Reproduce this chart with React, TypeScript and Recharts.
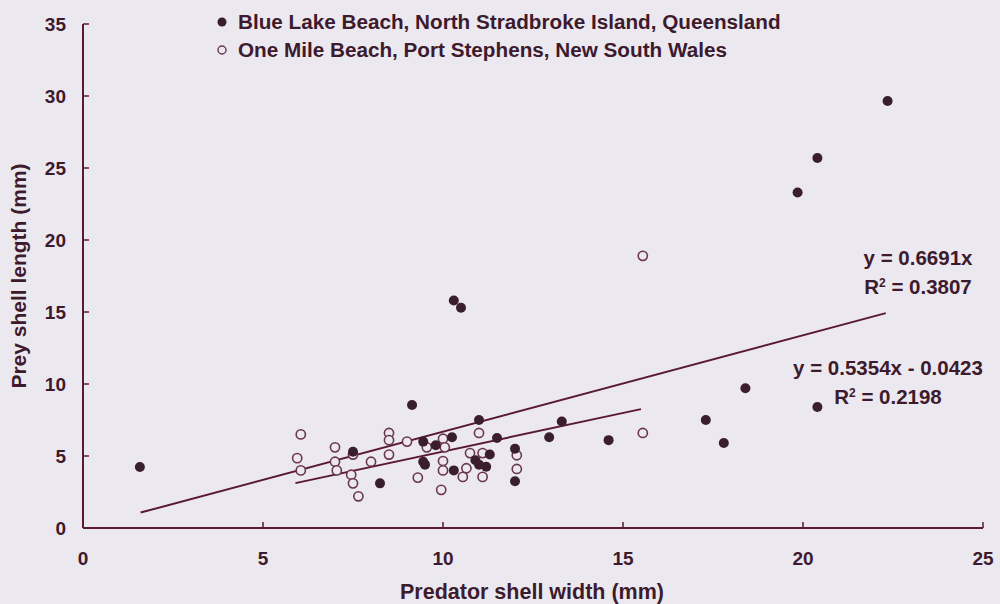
import React from "react";
import { ScatterChart, Scatter, XAxis, YAxis, ReferenceLine } from "recharts";

const blueLakeX = [1.58, 9.14, 10.3, 10.5, 8.25, 10.25, 11.0, 11.5, 12.0, 12.0, 13.3, 12.95, 14.6, 17.3, 17.8, 18.4, 19.85, 20.4, 20.4, 22.35, 7.5, 9.45, 9.8, 9.45, 9.5, 10.3, 10.9, 11.0, 11.3, 11.2];
const blueLakeY = [4.24, 8.54, 15.8, 15.3, 3.1, 6.3, 7.5, 6.25, 5.5, 3.25, 7.4, 6.3, 6.1, 7.5, 5.9, 9.7, 23.3, 25.7, 8.4, 29.65, 5.3, 6.0, 5.75, 4.6, 4.4, 4.0, 4.7, 4.4, 5.1, 4.25];

const oneMileX = [6.05, 5.95, 6.05, 7.0, 7.0, 7.05, 7.45, 7.5, 7.65, 7.5, 8.0, 8.5, 8.5, 8.5, 9.0, 9.3, 9.55, 9.95, 10.0, 10.05, 10.0, 10.0, 10.55, 10.65, 10.75, 11.0, 11.1, 11.1, 12.05, 12.05, 15.55, 15.55];
const oneMileY = [6.5, 4.85, 4.0, 5.6, 4.6, 4.0, 3.7, 3.1, 2.2, 5.1, 4.6, 6.6, 6.1, 5.1, 6.0, 3.5, 5.6, 2.65, 6.2, 5.6, 4.65, 4.0, 3.55, 4.15, 5.2, 6.6, 5.2, 3.55, 5.05, 4.1, 18.9, 6.6];

const xTicks = [0, 5, 10, 15, 20, 25];
const yTicks = [0, 5, 10, 15, 20, 25, 30, 35];

const seriesNames = [
  "Blue Lake Beach, North Stradbroke Island, Queensland",
  "One Mile Beach, Port Stephens, New South Wales",
];

// trend lines from the fitted equations shown on the chart
const trendBlue = { slope: 0.6691, intercept: 0, x0: 1.6, x1: 22.3 };
const trendOne = { slope: 0.5354, intercept: -0.0423, x0: 5.9, x1: 15.5 };

const blueLake = blueLakeX.map((x, i) => ({ x, y: blueLakeY[i] }));
const oneMile = oneMileX.map((x, i) => ({ x, y: oneMileY[i] }));

const seg = (t: typeof trendBlue) => [
  { x: t.x0, y: t.slope * t.x0 + t.intercept },
  { x: t.x1, y: t.slope * t.x1 + t.intercept },
];

const INK = "#3d1a2c";
const LINE = "#5a1838";
const BG = "#ebe8f0";
const FONT = "'Liberation Sans', Arial, sans-serif";

const FilledDot = (p: any) => <circle cx={p.cx} cy={p.cy} r={5} fill="#3a1e2e" />;
const OpenDot = (p: any) => (
  <circle cx={p.cx} cy={p.cy} r={4.6} fill={BG} stroke="#6a3550" strokeWidth={1.6} />
);

const XTick = (p: any) => {
  const { x, y, payload } = p;
  return (
    <g>
      {payload.value !== 0 && <line x1={x} y1={y} x2={x} y2={y - 6} stroke={LINE} strokeWidth={1.5} />}
      <text x={x} y={y + 37} textAnchor="middle" fill={INK} fontSize={19} fontWeight="bold" fontFamily={FONT}>
        {payload.value}
      </text>
    </g>
  );
};

const YTick = (p: any) => {
  const { x, y, payload } = p;
  return (
    <g>
      {payload.value !== 0 && <line x1={x} y1={y} x2={x + 6} y2={y} stroke={LINE} strokeWidth={1.5} />}
      <text x={x - 17} y={y + 7} textAnchor="end" fill={INK} fontSize={19} fontWeight="bold" fontFamily={FONT}>
        {payload.value}
      </text>
    </g>
  );
};

const eqStyle: React.CSSProperties = {
  position: "absolute",
  fontFamily: FONT,
  fontWeight: "bold",
  fontSize: 20.5,
  color: INK,
  textAlign: "center",
  lineHeight: "29px",
  whiteSpace: "nowrap",
};

export default function App() {
  return (
    <div style={{ position: "absolute", left: 0, top: 0, width: 1000, height: 604, background: BG }}>
      <ScatterChart width={1000} height={604} margin={{ top: 24, right: 17, bottom: 0, left: 0 }}>
        <XAxis
          type="number"
          dataKey="x"
          domain={[0, 25]}
          ticks={xTicks}
          tickSize={0}
          tickMargin={0}
          tick={<XTick />}
          height={76}
          axisLine={{ stroke: LINE, strokeWidth: 2 }}
          tickLine={false}
          allowDataOverflow
          label={{
            content: (props: any) => {
              const vb = props.viewBox;
              return (
                <text x={vb.x + vb.width / 2 - 1} y={vb.y + 71} textAnchor="middle" fill={INK} fontSize={21.5} fontWeight="bold" fontFamily={FONT}>
                  Predator shell width (mm)
                </text>
              );
            },
          }}
        />
        <YAxis
          type="number"
          dataKey="y"
          domain={[0, 35]}
          ticks={yTicks}
          tickSize={0}
          tickMargin={0}
          tick={<YTick />}
          width={83}
          axisLine={{ stroke: LINE, strokeWidth: 2 }}
          tickLine={false}
          allowDataOverflow
          label={{
            content: (props: any) => {
              const vb = props.viewBox;
              const cx = vb.x + 18;
              const cy = vb.y + vb.height / 2;
              return (
                <text x={cx} y={cy} transform={`rotate(-90, ${cx}, ${cy})`} textAnchor="middle" dominantBaseline="central" fill={INK} fontSize={21} fontWeight="bold" fontFamily={FONT}>
                  Prey shell length (mm)
                </text>
              );
            },
          }}
        />
        <ReferenceLine segment={seg(trendBlue)} stroke={LINE} strokeWidth={2} ifOverflow="visible" />
        <ReferenceLine segment={seg(trendOne)} stroke={LINE} strokeWidth={2} ifOverflow="visible" />
        <Scatter name={seriesNames[1]} data={oneMile} shape={<OpenDot />} isAnimationActive={false} />
        <Scatter name={seriesNames[0]} data={blueLake} shape={<FilledDot />} isAnimationActive={false} />
      </ScatterChart>
      <div
        style={{
          position: "absolute",
          left: 212,
          top: 8,
          fontFamily: FONT,
          fontWeight: "bold",
          fontSize: 20.7,
          color: INK,
          lineHeight: "28px",
          whiteSpace: "nowrap",
        }}
      >
        {seriesNames.map((n, i) => (
          <div key={n} style={{ display: "flex", alignItems: "center" }}>
            <svg width={26} height={28}>
              {i === 0 ? (
                <circle cx={10} cy={14} r={4.5} fill="#3a1e2e" />
              ) : (
                <circle cx={10} cy={14} r={4} fill={BG} stroke="#6a3550" strokeWidth={1.4} />
              )}
            </svg>
            <span>{n}</span>
          </div>
        ))}
      </div>
      <div style={{ ...eqStyle, left: 858, top: 243, width: 120 }}>
        <div>y = 0.6691x</div>
        <div>
          R<sup style={{ fontSize: 12, verticalAlign: "7px", lineHeight: 0 }}>2</sup> = 0.3807
        </div>
      </div>
      <div style={{ ...eqStyle, left: 788, top: 353, width: 200 }}>
        <div>y = 0.5354x - 0.0423</div>
        <div>
          R<sup style={{ fontSize: 12, verticalAlign: "7px", lineHeight: 0 }}>2</sup> = 0.2198
        </div>
      </div>
    </div>
  );
}
